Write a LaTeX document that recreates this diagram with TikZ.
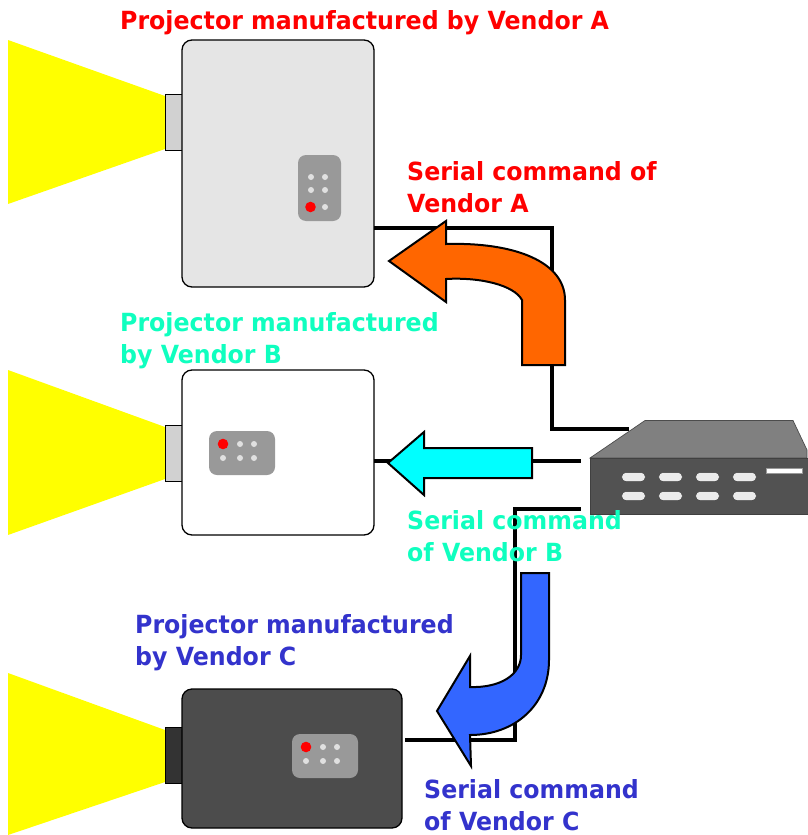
\documentclass[tikz,border=0pt]{standalone}
\usepackage{fontspec}
\setmainfont[FakeStretch=0.947]{DejaVu Sans}
\definecolor{labA}{RGB}{255,0,0}
\definecolor{labB}{RGB}{15,255,191}
\definecolor{labC}{RGB}{51,51,204}
\definecolor{beamcol}{RGB}{255,255,0}
\definecolor{cyanarrow}{RGB}{0,255,255}
\definecolor{orangearrow}{RGB}{255,102,0}
\definecolor{bluearrow}{RGB}{51,102,255}
\tikzset{
  x=1pt,y=-1pt,
  beam/.style={fill=beamcol,draw=none},
  body/.style={draw=black,line width=1.3pt,rounded corners=10pt,inner sep=0pt},
  lens/.style={draw=black,line width=1pt,inner sep=0pt,minimum width=17pt,minimum height=56pt},
  panel/.style={fill=black!40,draw=none,rounded corners=8pt,inner sep=0pt},
  led/.style={circle,fill=black!12,draw=none,minimum size=6pt,inner sep=0pt},
  redled/.style={circle,fill=labA,draw=none,minimum size=10.6pt,inner sep=0pt},
  wire/.style={draw=black,line width=3.7pt},
  bigarrow/.style={draw=black,line width=2pt,line join=miter},
  label/.style={font=\bfseries\fontsize{25}{32}\selectfont,align=left,anchor=north west,inner sep=0pt},
  key/.style={fill=black!8,draw=black!75,line width=.5pt,rounded corners=4pt,minimum width=23.5pt,minimum height=9pt,inner sep=0pt},
}
\begin{document}
\begin{tikzpicture}
\useasboundingbox (0,0) rectangle (807,835);
% beams
\fill[beam] (165,96) -- (8,40) -- (8,204) -- (165,149) -- cycle;
\fill[beam] (165,427) -- (8,370) -- (8,535) -- (165,479) -- cycle;
\fill[beam] (165,730) -- (8,673) -- (8,835) -- (165,782) -- cycle;
% projector A
\node[lens,fill=black!18] (la) at (173.5,122) {};
\node[body,fill=black!10,minimum width=192pt,minimum height=247pt] (pa) at (278,163.5) {};
\node[panel,minimum width=43pt,minimum height=66pt] (pna) at (319.5,188) {};
\node[led] (a1) at (311,177) {}; \node[led] (a2) at (325,177) {};
\node[led] (a3) at (311,190) {}; \node[led] (a4) at (325,190) {};
\node[redled] (a5) at (310.5,207) {}; \node[led] (a6) at (325,207) {};
% projector B
\node[lens,fill=black!18] (lb) at (173.5,453) {};
\node[body,fill=white,minimum width=192pt,minimum height=165pt] (pb) at (278,452.5) {};
\node[panel,minimum width=66pt,minimum height=44pt] (pnb) at (242,453) {};
\node[redled] (b1) at (223,444) {}; \node[led] (b2) at (240,444) {}; \node[led] (b3) at (254,444) {};
\node[led] (b4) at (223,458) {}; \node[led] (b5) at (240,458) {}; \node[led] (b6) at (254,458) {};
% projector C
\node[lens,fill=black!80] (lc) at (173.5,755.5) {};
\node[body,fill=black!70,minimum width=220pt,minimum height=139pt] (pc) at (292,758.5) {};
\node[panel,minimum width=66pt,minimum height=44pt] (pnc) at (325,756) {};
\node[redled] (c1) at (306,747) {}; \node[led] (c2) at (323,747) {}; \node[led] (c3) at (337,747) {};
\node[led] (c4) at (306,761) {}; \node[led] (c5) at (323,761) {}; \node[led] (c6) at (337,761) {};
% wires
\coordinate (wa) at (374,228); \coordinate (wae) at (629,429);
\coordinate (wb) at (374,461); \coordinate (wbe) at (581,461);
\coordinate (wc) at (405,740); \coordinate (wce) at (581,509);
\draw[wire] (wa) -- (552,228) -- (552,429) -- (wae);
\draw[wire] (wb) -- (wbe);
\draw[wire] (wc) -- (515,740) -- (515,509) -- (wce);
% device
\fill[black!50,draw=black!70,line width=.7pt] (590,458) -- (645,420.5) -- (793,420.5) -- (807,450) -- (807,458) -- cycle;
\node[fill=black!68,draw=black!75,line width=.7pt,minimum width=220pt,minimum height=56pt,inner sep=0pt] (dev) at (700,486) {};
\foreach \kx in {633.5,670.5,707.5,744.5}{
  \node[key] at (\kx,477) {};
  \node[key] at (\kx,496) {};
}
\node[fill=white,draw=black!40,line width=.4pt,minimum width=36pt,minimum height=5pt,inner sep=0pt] (bar) at (784,470.5) {};
% big arrows
\draw[bigarrow,fill=orangearrow] (389,261) -- (446,221) -- (446,244)
  .. controls (515,242) and (565,262) .. (565,300) -- (565,365) -- (522,365) -- (522,300)
  .. controls (514,285) and (480,277) .. (446,279) -- (446,302) -- cycle;
\draw[bigarrow,fill=cyanarrow] (388,463) -- (424,432) -- (424,448) -- (532,448) -- (532,478) -- (424,478) -- (424,495) -- cycle;
\draw[bigarrow,fill=bluearrow] (521,573) -- (549,573) -- (549,660)
  .. controls (549,705) and (515,735) .. (470,735) -- (471,766) -- (437,711) -- (470,656) -- (470,687)
  .. controls (500,688) and (521,675) .. (521,655) -- cycle;
% labels
\node[label,text=labA] (ta) at (120,10) {Projector manufactured by Vendor A};
\node[label,text=labA] (sa) at (407,161) {Serial command of\\Vendor A};
\node[label,text=labB] (tb) at (120,312) {Projector manufactured\\by Vendor B};
\node[label,text=labB] (sb) at (407,510) {Serial command\\of Vendor B};
\node[label,text=labC] (tc) at (135,614) {Projector manufactured\\by Vendor C};
\node[label,text=labC] (sc) at (424,779) {Serial command\\of Vendor C};
\end{tikzpicture}
\end{document}
